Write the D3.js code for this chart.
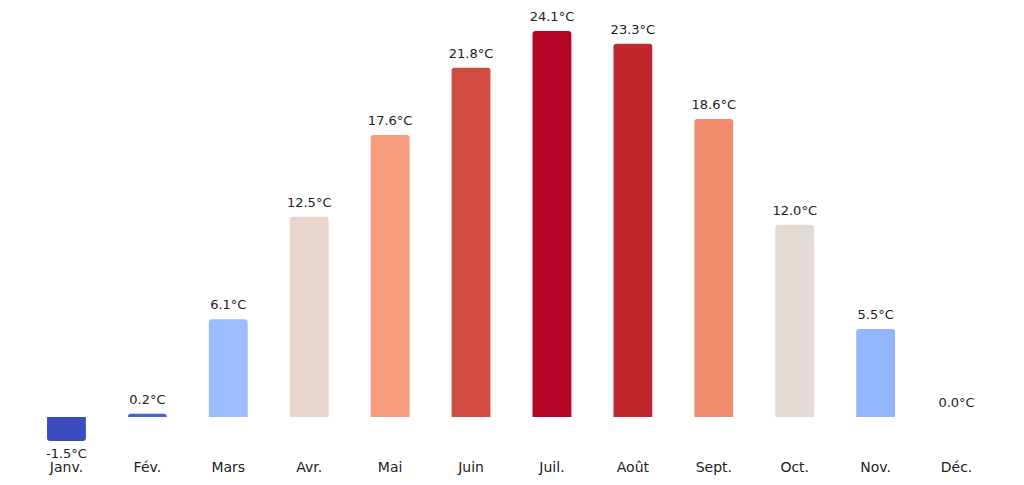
<!DOCTYPE html>
<html>
<head>
<meta charset="utf-8">
<script src="https://cdn.jsdelivr.net/npm/d3@7"></script>
<style>
  body { margin: 0; background: #fff; }
  text { font-family: "DejaVu Sans", sans-serif; font-size: 13px; fill: #222; }
</style>
</head>
<body>
<script>
var months = ['Janv.', 'Fév.', 'Mars', 'Avr.', 'Mai', 'Juin', 'Juil.', 'Août', 'Sept.', 'Oct.', 'Nov.', 'Déc.'];
var temps = [-1.5, 0.2, 6.1, 12.5, 17.6, 21.8, 24.1, 23.3, 18.6, 12.0, 5.5, 0.0];
var colors = ['#3b4cc0', '#4961d2', '#9bbcff', '#e8d6cc', '#f59c7d', '#d24b40',
  '#b40426', '#c0282d', '#f08b6e', '#e2dad5', '#93b5fe', '#dddcdc'];

var width = 1024, height = 485;
var svg = d3.select('body').append('svg').attr('width', width).attr('height', height);

var x = d3.scaleBand().domain(months).range([26, 997]).paddingInner(0.52).paddingOuter(0.26);
var y = d3.scaleLinear().domain([0, 24.1]).range([417, 31]);

function barPath(d, i) {
  var x0 = x(months[i]), w = x.bandwidth(), r = 3;
  var top = Math.min(y(d), y(0)), bot = Math.max(y(d), y(0));
  var h = bot - top;
  if (h < 0.5) return '';
  r = Math.min(r, h);
  if (d >= 0) {
    return 'M' + x0 + ',' + bot + 'V' + (top + r) + 'Q' + x0 + ',' + top + ' ' + (x0 + r) + ',' + top +
      'H' + (x0 + w - r) + 'Q' + (x0 + w) + ',' + top + ' ' + (x0 + w) + ',' + (top + r) + 'V' + bot + 'Z';
  }
  return 'M' + x0 + ',' + top + 'V' + (bot - r) + 'Q' + x0 + ',' + bot + ' ' + (x0 + r) + ',' + bot +
    'H' + (x0 + w - r) + 'Q' + (x0 + w) + ',' + bot + ' ' + (x0 + w) + ',' + (bot - r) + 'V' + top + 'Z';
}

svg.selectAll('.bar').data(temps).enter().append('path')
  .attr('class', 'bar')
  .attr('d', barPath)
  .attr('fill', function(d, i) { return colors[i]; });

svg.selectAll('.val').data(temps).enter().append('text')
  .attr('class', 'val')
  .attr('text-anchor', 'middle')
  .attr('x', function(d, i) { return x(months[i]) + x.bandwidth() / 2; })
  .attr('y', function(d) { return d < 0 ? y(d) + 17 : y(d) - 10; })
  .text(function(d) { return d.toFixed(1) + '°C'; });

var xAxis = d3.axisBottom(x).tickSize(0).tickPadding(0);
var g = svg.append('g').attr('transform', 'translate(0,' + 462 + ')').call(xAxis);
g.select('.domain').remove();
g.selectAll('text').style('font-size', '14px').attr('dy', '0.71em').style('fill', '#222');
</script>
</body>
</html>
